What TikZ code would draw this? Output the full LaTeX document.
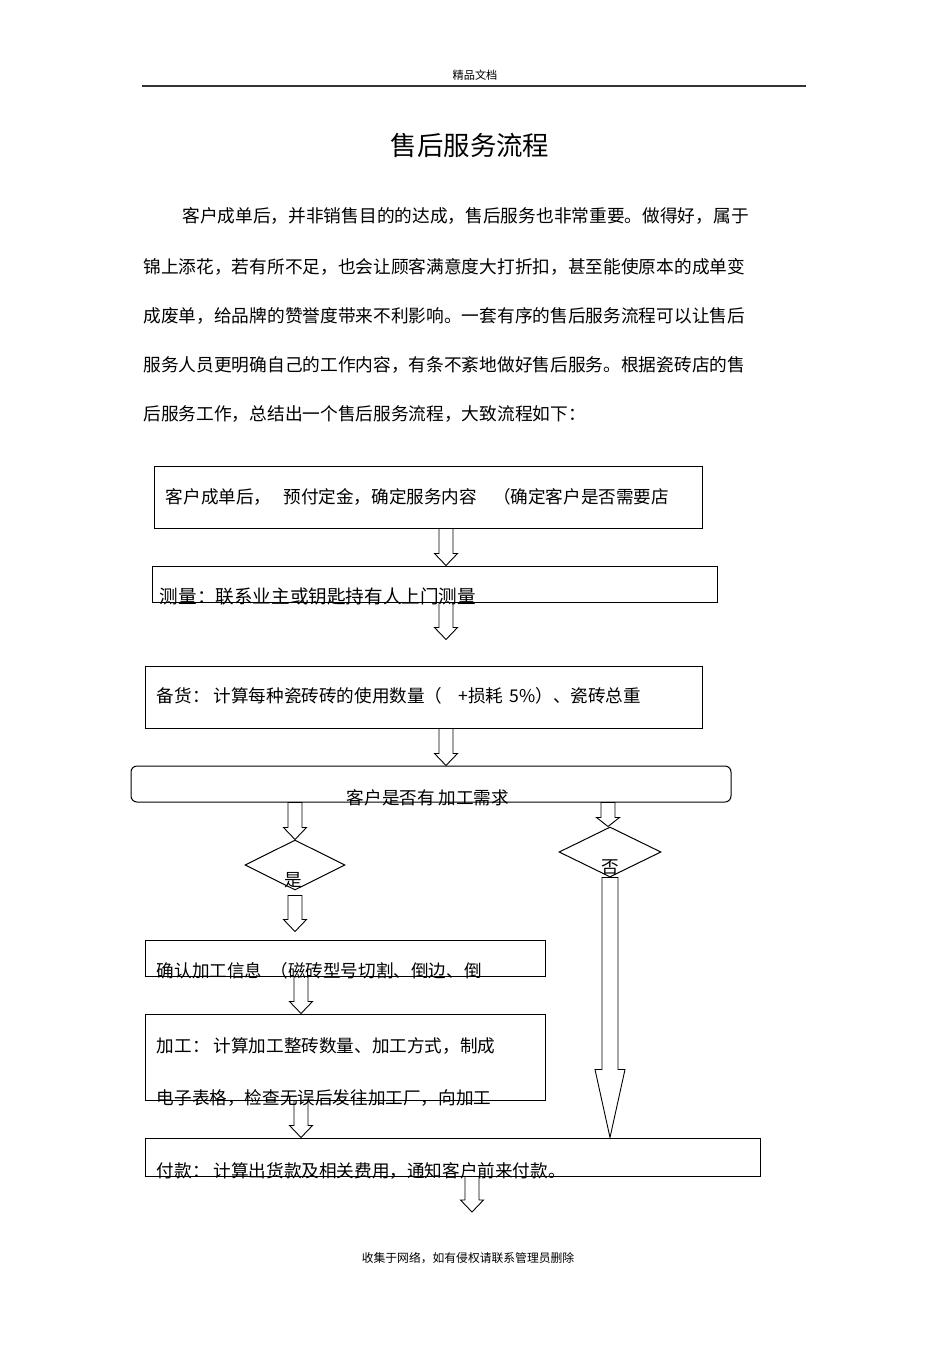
\documentclass[tikz,border=0pt]{standalone}
\usepackage{fontspec}
\newfontfamily\cjk{Noto Sans CJK SC}
\usetikzlibrary{calc, positioning, shapes}

\tikzset{
  box/.style={draw, line width=0.5pt, inner sep=0pt},
  hollow/.style={draw, fill=white, line width=0.45pt, line join=miter},
  txt/.style={font=\cjk\fontsize{8.8pt}{10pt}\selectfont, inner sep=0pt, anchor=west},
  body/.style={font=\cjk\fontsize{8.85pt}{11pt}\selectfont, inner sep=0pt, anchor=west},
}

% hollow block arrow: #1 head length, #2 start, #3 tip
\newcommand\hollowarrow[3][6pt]{%
  \draw[hollow] let \p1=#2, \p2=#3 in
    (\x1-3.5pt,\y1) -- (\x1-3.5pt,\y2+#1) -- (\x1-5.75pt,\y2+#1) -- (\x1,\y2)
    -- (\x1+5.75pt,\y2+#1) -- (\x1+3.5pt,\y2+#1) -- (\x1+3.5pt,\y1) -- cycle;}

\begin{document}
\begin{tikzpicture}[x=0.5pt, y=-0.5pt]
  \fill[white] (0,0) rectangle (950,1345);
  \useasboundingbox (0,0) rectangle (950,1345);

  % page header, title and text
  \node[font=\cjk\fontsize{5.6pt}{7pt}\selectfont, inner sep=0pt] (head) at (475,75) {精品文档};
  \draw[line width=0.7pt, black!80] (142,86) -- (806,86);
  \node[font=\cjk\fontsize{13.2pt}{15pt}\selectfont, inner sep=0pt] (title) at (470,145) {售后服务流程};

  \node[body] (p1) at (182,216) {客户成单后，并非销售目的的达成，售后服务也非常重要。做得好，属于};
  \node[body] (p2) at (143,267) {锦上添花，若有所不足，也会让顾客满意度大打折扣，甚至能使原本的成单变};
  \node[body] (p3) at (143,316) {成废单，给品牌的赞誉度带来不利影响。一套有序的售后服务流程可以让售后};
  \node[body] (p4) at (143,365) {服务人员更明确自己的工作内容，有条不紊地做好售后服务。根据瓷砖店的售};
  \node[body] (p5) at (143,414) {后服务工作，总结出一个售后服务流程，大致流程如下：};

  % flow boxes
  \node[box, minimum width=274pt, minimum height=31pt] (b1) at (428,497) {};
  \node[box, minimum width=282.5pt, minimum height=18pt] (b2) at (434.5,584) {};
  \node[box, minimum width=278.5pt, minimum height=31pt] (b3) at (423.5,697) {};
  \node[box, rounded corners=3pt, minimum width=300pt, minimum height=18pt] (b4) at (431,784) {};
  \node[box, diamond, minimum width=50pt, minimum height=25pt] (d1) at (295,865) {};
  \node[box, diamond, minimum width=51pt, minimum height=25pt] (d2) at (610,852) {};
  \node[box, minimum width=200pt, minimum height=18pt] (b5) at (345,958) {};
  \node[box, minimum width=200pt, minimum height=43pt] (b6) at (345,1057) {};
  \node[box, minimum width=307.5pt, minimum height=19pt] (b7) at (452.5,1157) {};

  \coordinate (c1) at (446,0);
  \coordinate (c2) at (295,0);
  \coordinate (c3) at (301,0);
  \coordinate (c4) at (608,0);
  \coordinate (c5) at (472,0);
  \coordinate (end) at (472,1212);

  % connectors
  \hollowarrow{(b1.south -| c1)}{(b2.north -| c1)}
  \hollowarrow{(b2.south -| c1)}{($(b3.north -| c1)+(0,-26)$)}
  \hollowarrow{(b3.south -| c1)}{(b4.north -| c1)}
  \hollowarrow{(b4.south -| c2)}{(d1.north)}
  \hollowarrow{($(d1.south)+(0,5)$)}{($(b5.north -| c2)+(0,-8)$)}
  \hollowarrow{(b5.south -| c3)}{(b6.north -| c3)}
  \hollowarrow{(b6.south -| c3)}{(b7.north -| c3)}
  \hollowarrow{(b7.south -| c5)}{(end)}
  \hollowarrow[4.5pt]{(b4.south -| c4)}{(d2.north -| c4)}
  \draw[hollow] let \p1=(d2.south), \p2=(b7.north -| d2) in
    (\x1-4pt,\y1) -- (\x1-4pt,\y2+34pt) -- (\x1-7.5pt,\y2+34pt) -- (\x1,\y2)
    -- (\x1+7.5pt,\y2+34pt) -- (\x1+4pt,\y2+34pt) -- (\x1+4pt,\y1) -- cycle;

  % texts
  \node[txt] (t1) at ($(b1.west)+(12,0)$) {客户成单后，\hspace{6pt}预付定金，确定服务内容\hspace{8pt}（确定客户是否需要店};
  \node[txt, font=\cjk\fontsize{9.3pt}{10pt}\selectfont] (t2) at ($(b2.south west)+(8,-6)$) {测量：联系业主或钥匙持有人上门测量};
  \node[txt] (t3) at ($(b3.west)+(12,-1)$) {备货：\hspace{2pt}计算每种瓷砖砖的使用数量（\hspace{8pt}+损耗\hspace{3pt}5\%）、瓷砖总重};
  \node[txt, anchor=center] (t4) at ($(b4.south)+(-3,-5)$) {客户是否有 加工需求};
  \node[txt, anchor=center] (l1) at ($(d1.south)+(-2,-10)$) {是};
  \node[txt, anchor=center] (l2) at ($(d2.south)+(0,-10)$) {否};
  \node[txt] (t5) at ($(b5.south west)+(12,-6)$) {确认加工信息\hspace{4pt}（磁砖型号切割、倒边、倒};
  \node[txt] (t6) at ($(b6.north west)+(12,32)$) {加工：\hspace{2pt}计算加工整砖数量、加工方式，制成};
  \node[txt] (t6b) at ($(b6.south west)+(12,-3)$) {电子表格，检查无误后发往加工厂，向加工};
  \node[txt] (t7) at ($(b7.south west)+(12,-6)$) {付款：\hspace{2pt}计算出货款及相关费用，通知客户前来付款。};

  \node[font=\cjk\fontsize{5.9pt}{7pt}\selectfont, inner sep=0pt] (foot) at (468,1258) {收集于网络，如有侵权请联系管理员删除};
\end{tikzpicture}
\end{document}
